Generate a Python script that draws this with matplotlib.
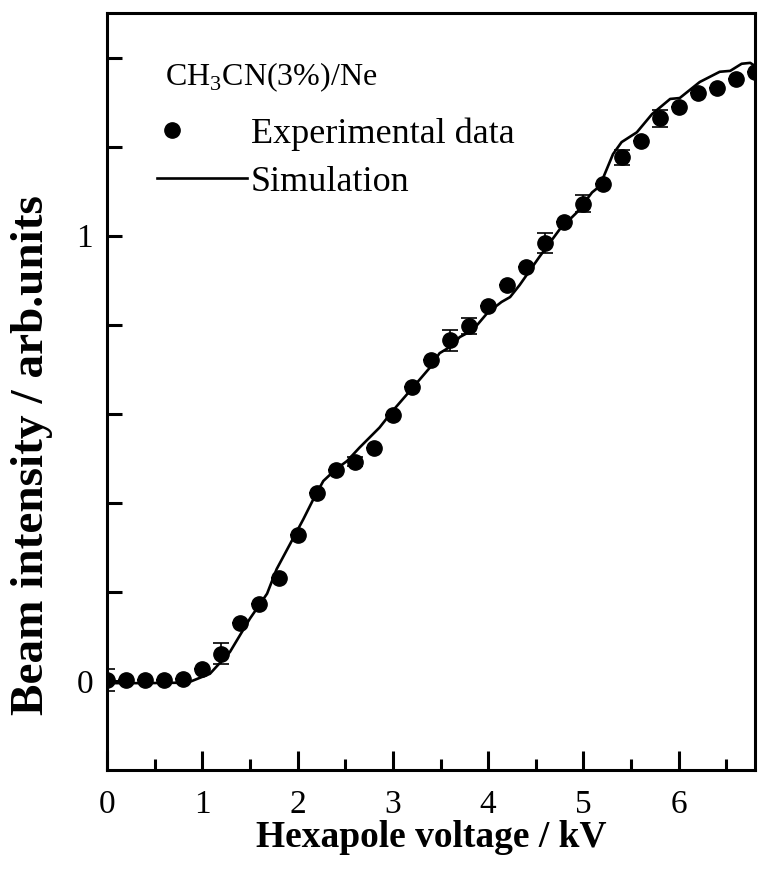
import matplotlib
matplotlib.use("Agg")
import matplotlib.pyplot as plt
from matplotlib.lines import Line2D
from matplotlib.legend_handler import HandlerLine2DCompound
from matplotlib.ticker import MultipleLocator, FixedLocator

plt.rcParams['font.family'] = ['Liberation Serif', 'DejaVu Serif']
plt.rcParams['mathtext.fontset'] = 'custom'
plt.rcParams['mathtext.rm'] = 'Liberation Serif'

# experimental data (hexapole voltage in kV, beam intensity arb. units)
volt = [0.0, 0.2, 0.4, 0.6, 0.8, 1.0, 1.2, 1.4, 1.6, 1.8, 2.0, 2.2, 2.4, 2.6,
        2.8, 3.0, 3.2, 3.4, 3.6, 3.8, 4.0, 4.2, 4.4, 4.6, 4.8, 5.0, 5.2, 5.4,
        5.6, 5.8, 6.0, 6.2, 6.4, 6.6, 6.8]
intensity = [0.002, 0.002, 0.002, 0.002, 0.005, 0.027, 0.061, 0.131, 0.172,
             0.230, 0.328, 0.422, 0.474, 0.492, 0.522, 0.598, 0.659, 0.720,
             0.765, 0.797, 0.842, 0.889, 0.929, 0.984, 1.031, 1.072, 1.117,
             1.176, 1.212, 1.264, 1.289, 1.320, 1.332, 1.352, 1.368]
err = [0.024, 0, 0, 0, 0, 0, 0.024, 0, 0, 0, 0, 0, 0, 0.01,
       0, 0, 0, 0, 0.023, 0.018, 0, 0, 0, 0.023, 0, 0.019, 0, 0.017,
       0, 0.019, 0, 0, 0, 0, 0]

# simulation curve
sim_v = [0.0, 0.4, 0.8, 0.87, 1.08, 1.29, 1.50, 1.68, 1.78, 1.92, 2.06, 2.17,
         2.27, 2.40, 2.52, 2.65, 2.86, 3.00, 3.21, 3.39, 3.49, 3.63, 3.70,
         3.84, 3.99, 4.14, 4.23, 4.33, 4.54, 4.75, 4.93, 5.09, 5.17, 5.31,
         5.40, 5.56, 5.72, 5.91, 6.01, 6.22, 6.43, 6.54, 6.66, 6.75, 6.80]
sim_i = [-0.005, -0.005, -0.004, -0.002, 0.016, 0.065, 0.140, 0.196, 0.251,
         0.307, 0.363, 0.410, 0.449, 0.475, 0.494, 0.524, 0.569, 0.607, 0.659,
         0.704, 0.736, 0.754, 0.772, 0.788, 0.826, 0.851, 0.862, 0.889, 0.953,
         1.014, 1.052, 1.097, 1.111, 1.183, 1.210, 1.232, 1.273, 1.307, 1.309,
         1.345, 1.368, 1.370, 1.386, 1.388, 1.381]


class LeftMarker(HandlerLine2DCompound):
    # put the legend dot near the left end of the handle
    def get_xdata(self, legend, xdescent, ydescent, width, height, fontsize):
        xd, xm = super().get_xdata(legend, xdescent, ydescent, width, height, fontsize)
        return xd, [-xdescent + 0.17 * width]


fig = plt.figure(figsize=(7.6, 8.84), dpi=100)
ax = fig.add_axes([0.1408, 0.1290, 0.8526, 0.8563])

ax.plot(sim_v, sim_i, color='black', lw=1.9, zorder=2)
ax.errorbar(volt, intensity, yerr=err, fmt='o', color='black', ms=11,
            capsize=6, elinewidth=1.2, capthick=1.2, zorder=3)

ax.set_xlim(0, 6.8)
ax.set_ylim(-0.2, 1.5)

ax.xaxis.set_major_locator(MultipleLocator(1))
ax.xaxis.set_minor_locator(MultipleLocator(0.5))
ax.yaxis.set_major_locator(FixedLocator([0, 1]))
ax.yaxis.set_minor_locator(FixedLocator([0.2, 0.4, 0.6, 0.8, 1.2, 1.4]))
ax.set_yticklabels(['0', '1'])

ax.tick_params(axis='both', which='both', direction='in', top=False, right=False,
               labelsize=24, width=2.2)
ax.tick_params(axis='x', which='major', length=14, pad=14)
ax.tick_params(axis='x', which='minor', length=8)
ax.tick_params(axis='y', which='both', length=11, pad=10)
for s in ax.spines.values():
    s.set_linewidth(2.2)

ax.set_xlabel('Hexapole voltage / kV', fontsize=27, fontweight='bold', labelpad=0)
ax.set_ylabel('Beam intensity / arb.units', fontsize=34, fontweight='bold')
ax.yaxis.set_label_coords(-0.084, 0.416)

ax.text(0.61, 1.355, r'CH$_3$CN(3%)/Ne', fontsize=23, va='center', ha='left')

h_dot = Line2D([], [], color='black', marker='o', ms=11, ls='none')
h_line = Line2D([], [], color='black', lw=1.9)
ax.legend([h_dot, h_line], ['Experimental data', 'Simulation'],
          handler_map={h_dot: LeftMarker(numpoints=1)},
          loc='upper left', bbox_to_anchor=(0.077, 0.862), frameon=False,
          fontsize=26, handlelength=2.5, handletextpad=0.1,
          labelspacing=0.4, borderpad=0, borderaxespad=0)

fig.savefig('out.png', dpi=100)
